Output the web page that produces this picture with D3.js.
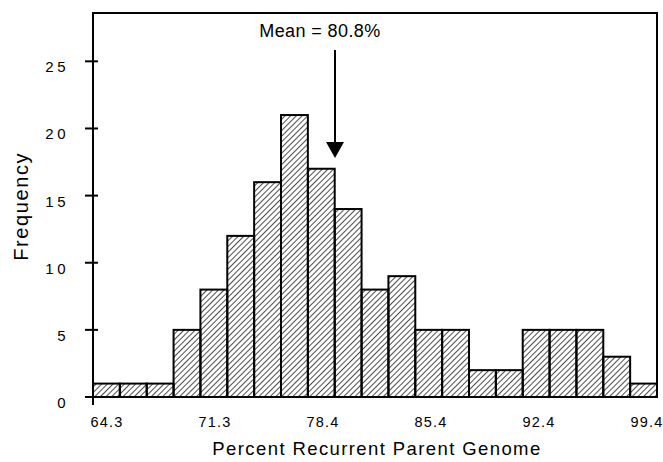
<!DOCTYPE html>
<html>
<head>
<meta charset="utf-8">
<script src="https://cdn.jsdelivr.net/npm/d3@7"></script>
<style>
    body { margin: 0; background: #fff; }
    text { font-family: "Liberation Sans", Arial, sans-serif; fill: #000; }
</style>
</head>
<body>
<svg id="chart" width="663" height="462"></svg>
<script>
// histogram data
const binStart = 64.3;
const binEnd = 99.4;
const counts = [1, 1, 1, 5, 8, 12, 16, 21, 17, 14, 8, 9, 5, 5, 2, 2, 5, 5, 5, 3, 1];
const xTickLabels = [64.3, 71.3, 78.4, 85.4, 92.4, 99.4];
const yTickLabels = [0, 5, 10, 15, 20, 25];
const meanLabel = "Mean =  80.8%";
const arrowValue = 79.36; // arrow drawn at edge of the 17 bar

const svg = d3.select("#chart");
const margin = { top: 13, right: 6, bottom: 65, left: 93 };
const width = 663 - margin.left - margin.right;
const height = 462 - margin.top - margin.bottom;

const x = d3.scaleLinear().domain([binStart, binEnd]).range([0, width]);
const y = d3.scaleLinear().domain([0, 28.6]).range([height, 0]);
const binW = (binEnd - binStart) / counts.length;
// tick labels in the original are spread a bit tighter than the bins
const xLabelPos = d3.scalePoint().domain(xTickLabels).range([14, 554]);

// hatch pattern
svg.append("defs").append("pattern")
    .attr("id", "hatch")
    .attr("patternUnits", "userSpaceOnUse")
    .attr("width", 4)
    .attr("height", 4)
    .attr("patternTransform", "rotate(45)")
    .append("line")
    .attr("x1", 0).attr("y1", 0)
    .attr("x2", 0).attr("y2", 4)
    .attr("stroke", "#000")
    .attr("stroke-width", 1.4);

const g = svg.append("g")
    .attr("transform", `translate(${margin.left},${margin.top})`);

// bars
g.selectAll(".bar")
    .data(counts)
    .enter()
    .append("rect")
    .attr("class", "bar")
    .attr("x", (d, i) => x(binStart + i * binW))
    .attr("y", d => y(d))
    .attr("width", x(binStart + binW) - x(binStart))
    .attr("height", d => height - y(d))
    .attr("fill", "url(#hatch)")
    .attr("stroke", "#000")
    .attr("stroke-width", 2);

// frame
g.append("rect")
    .attr("x", 0).attr("y", 0)
    .attr("width", width).attr("height", height)
    .attr("fill", "none")
    .attr("stroke", "#000")
    .attr("stroke-width", 2);

// y axis ticks crossing the axis
g.selectAll(".ytick")
    .data(yTickLabels)
    .enter()
    .append("line")
    .attr("x1", -8).attr("x2", 5)
    .attr("y1", d => y(d)).attr("y2", d => y(d))
    .attr("stroke", "#000")
    .attr("stroke-width", 2);

g.selectAll(".ylabel")
    .data(yTickLabels)
    .enter()
    .append("text")
    .attr("x", -24)
    .attr("y", d => y(d) + 11)
    .attr("text-anchor", "end")
    .attr("font-size", "15px")
    .attr("letter-spacing", "3.5px")
    .text(d => d);

// small tick at the origin below the axis
g.append("line")
    .attr("x1", x(xTickLabels[0])).attr("x2", x(xTickLabels[0]))
    .attr("y1", height).attr("y2", height + 8)
    .attr("stroke", "#000")
    .attr("stroke-width", 2);

g.selectAll(".xlabel")
    .data(xTickLabels)
    .enter()
    .append("text")
    .attr("x", d => xLabelPos(d))
    .attr("y", height + 30)
    .attr("text-anchor", "middle")
    .attr("font-size", "14.5px")
    .attr("letter-spacing", "1.2px")
    .text(d => d.toFixed(1));

// axis titles
g.append("text")
    .attr("x", 377 - margin.left)
    .attr("y", height + 58)
    .attr("text-anchor", "middle")
    .attr("font-size", "18.5px")
    .attr("letter-spacing", "1.4px")
    .text("Percent Recurrent Parent Genome");

svg.append("text")
    .attr("transform", `translate(28,${margin.top + y(14.2)}) rotate(-90)`)
    .attr("text-anchor", "middle")
    .attr("font-size", "20px")
    .attr("letter-spacing", "1.6px")
    .text("Frequency");

// mean annotation
g.append("text")
    .attr("x", x(arrowValue) - 15)
    .attr("y", 24)
    .attr("text-anchor", "middle")
    .attr("font-size", "18px")
    .attr("letter-spacing", "0.4px")
    .text(meanLabel);

g.append("line")
    .attr("x1", x(arrowValue)).attr("x2", x(arrowValue))
    .attr("y1", 37).attr("y2", 130)
    .attr("stroke", "#000")
    .attr("stroke-width", 2);

g.append("path")
    .attr("d", `M${x(arrowValue) - 9},${129} L${x(arrowValue) + 9},${129} L${x(arrowValue)},${145} Z`)
    .attr("fill", "#000");
</script>
</body>
</html>
